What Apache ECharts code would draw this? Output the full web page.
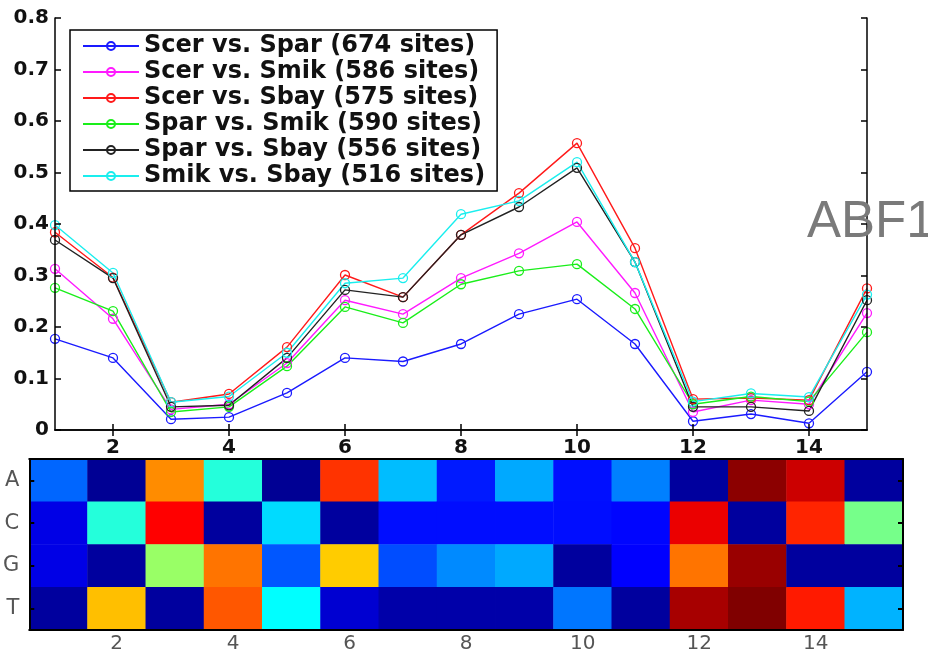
<!DOCTYPE html>
<html>
<head>
<meta charset="utf-8">
<script src="https://cdn.jsdelivr.net/npm/echarts@6/dist/echarts.min.js"></script>
<style>html,body{margin:0;padding:0;background:#fff;}#c{width:928px;height:654px;}</style>
</head>
<body>
<div id="c"></div>
<script>
const positions = ['1','2','3','4','5','6','7','8','9','10','11','12','13','14','15'];
const seriesNames = ['Scer vs. Spar (674 sites)','Scer vs. Smik (586 sites)','Scer vs. Sbay (575 sites)','Spar vs. Smik (590 sites)','Spar vs. Sbay (556 sites)','Smik vs. Sbay (516 sites)'];
const scerSpar = [0.177,0.140,0.021,0.025,0.072,0.140,0.133,0.167,0.225,0.254,0.167,0.017,0.031,0.013,0.113];
const scerSmik = [0.313,0.216,0.040,0.050,0.130,0.252,0.225,0.295,0.343,0.404,0.266,0.035,0.058,0.050,0.227];
const scerSbay = [0.384,0.296,0.054,0.070,0.161,0.301,0.258,0.379,0.460,0.557,0.353,0.060,0.062,0.058,0.275];
const sparSmik = [0.276,0.231,0.035,0.045,0.124,0.239,0.208,0.283,0.309,0.322,0.235,0.050,0.065,0.055,0.190];
const sparSbay = [0.369,0.295,0.045,0.048,0.140,0.272,0.258,0.379,0.433,0.509,0.326,0.045,0.045,0.037,0.252];
const smikSbay = [0.398,0.305,0.054,0.065,0.150,0.285,0.295,0.419,0.445,0.520,0.326,0.055,0.071,0.064,0.263];
const yTicks = [0,0.1,0.2,0.3,0.4,0.5,0.6,0.7,0.8];

const bases = ['A','C','G','T'];
const rowA = [0.225,0.020,0.738,0.410,0.020,0.825,0.310,0.150,0.290,0.140,0.250,0.030,0.988,0.925,0.030];
const rowC = [0.100,0.410,0.875,0.030,0.340,0.030,0.138,0.138,0.138,0.138,0.130,0.895,0.030,0.840,0.490];
const rowG = [0.100,0.030,0.525,0.762,0.210,0.675,0.200,0.260,0.290,0.030,0.125,0.762,0.975,0.030,0.030];
const rowT = [0.030,0.688,0.030,0.790,0.375,0.080,0.040,0.040,0.040,0.240,0.030,0.962,1.000,0.850,0.300];
const title = 'ABF1';

const lineData = [scerSpar, scerSmik, scerSbay, sparSmik, sparSbay, smikSbay];
const colors = ['#1a1aff','#ff1aff','#ff1a1a','#1aee1a','#222222','#1aeeee'];
const rows = [rowA, rowC, rowG, rowT];
const heatData = [];
rows.forEach((r, yi) => r.forEach((v, xi) => heatData.push([xi, yi, v])));

const evenOnly = (i) => i % 2 === 1;
const boldFont = 'DejaVu Sans';

const chart = echarts.init(document.getElementById('c'));
chart.setOption({
  animation: false,
  backgroundColor: '#fff',
  grid: [
    {left: 55, right: 61, top: 18, bottom: 224, show: false},
    {left: 27, right: 25, top: 459, bottom: 21, show: false}
  ],
  legend: {
    data: seriesNames,
    orient: 'vertical',
    left: 70, top: 30,
    padding: [4, 12, 3, 12],
    itemWidth: 56, itemHeight: 10, itemGap: 2,
    backgroundColor: '#fff',
    borderColor: '#000', borderWidth: 1.5,
    textStyle: {fontFamily: boldFont, fontWeight: 'bold', fontSize: 24, color: '#111', lineHeight: 24}
  },
  visualMap: {
    type: 'continuous', show: false, min: 0, max: 1, seriesIndex: 6,
    inRange: {color: ['#000080','#0000ff','#0080ff','#00ffff','#80ff80','#ffff00','#ff8000','#ff0000','#800000']}
  },
  xAxis: [
    {type: 'category', gridIndex: 0, data: positions, boundaryGap: false,
     axisLine: {lineStyle: {color: '#000', width: 1.5}},
     axisTick: {inside: true, length: 6, interval: evenOnly, lineStyle: {color: '#000', width: 1.5}},
     axisLabel: {interval: evenOnly, fontFamily: boldFont, fontWeight: 'bold', fontSize: 20, color: '#111', margin: 8},
     splitLine: {show: false}, z: 10},
    {type: 'category', gridIndex: 0, data: positions, boundaryGap: false, position: 'top',
     axisLine: {lineStyle: {color: '#000', width: 1.5}},
     axisTick: {inside: true, length: 6, interval: evenOnly, lineStyle: {color: '#000', width: 1.5}},
     axisLabel: {show: false}, splitLine: {show: false}, z: 10},
    {type: 'category', gridIndex: 1, data: positions,
     axisLine: {lineStyle: {color: '#000', width: 2}},
     axisTick: {inside: true, length: 5, alignWithLabel: true, interval: evenOnly, lineStyle: {color: '#000', width: 2}},
     axisLabel: {interval: evenOnly, fontFamily: 'DejaVu Sans', fontSize: 20, color: '#555', margin: 4},
     splitLine: {show: false}, z: 10},
    {type: 'category', gridIndex: 1, data: positions, position: 'top',
     axisLine: {lineStyle: {color: '#000', width: 2}},
     axisTick: {inside: true, length: 5, alignWithLabel: true, interval: evenOnly, lineStyle: {color: '#000', width: 2}},
     axisLabel: {show: false}, splitLine: {show: false}, z: 10}
  ],
  yAxis: [
    {type: 'value', gridIndex: 0, min: 0, max: 0.8, interval: 0.1,
     axisLine: {show: true, lineStyle: {color: '#000', width: 1.5}},
     axisTick: {show: true, inside: true, length: 6, lineStyle: {color: '#000', width: 1.5}},
     axisLabel: {fontFamily: boldFont, fontWeight: 'bold', fontSize: 20, color: '#111', margin: 6,
       formatter: (v) => { const t = yTicks.find(x => Math.abs(x - v) < 1e-6); return t === 0 ? '0' : (t !== undefined ? t.toFixed(1) : ''); }},
     splitLine: {show: false}, z: 10},
    {type: 'value', gridIndex: 0, min: 0, max: 0.8, interval: 0.1, position: 'right',
     axisLine: {show: true, lineStyle: {color: '#000', width: 1.5}},
     axisTick: {show: true, inside: true, length: 6, lineStyle: {color: '#000', width: 1.5}},
     axisLabel: {show: false}, splitLine: {show: false}, z: 10},
    {type: 'category', gridIndex: 1, data: bases, inverse: true,
     axisLine: {show: true, lineStyle: {color: '#000', width: 2}},
     axisTick: {show: true, inside: true, length: 5, alignWithLabel: true, lineStyle: {color: '#000', width: 2}},
     axisLabel: {fontFamily: 'DejaVu Sans', fontSize: 21, color: '#555', margin: 10},
     splitLine: {show: false}, z: 10},
    {type: 'category', gridIndex: 1, data: bases, inverse: true, position: 'right',
     axisLine: {show: true, lineStyle: {color: '#000', width: 2}},
     axisTick: {show: true, inside: true, length: 5, alignWithLabel: true, lineStyle: {color: '#000', width: 2}},
     axisLabel: {show: false}, splitLine: {show: false}, z: 10}
  ],
  series: lineData.map((d, i) => ({
    name: seriesNames[i], type: 'line', xAxisIndex: 0, yAxisIndex: 0, data: d,
    symbol: 'circle', symbolSize: 9,
    itemStyle: {color: 'transparent', borderColor: colors[i], borderWidth: 1.3},
    lineStyle: {color: colors[i], width: 1.4},
    emphasis: {disabled: true}
  })).concat([{
    name: 'motif', type: 'heatmap', xAxisIndex: 2, yAxisIndex: 2, data: heatData,
    itemStyle: {borderWidth: 0}, emphasis: {disabled: true}
  }]),
  graphic: [{
    type: 'text', left: 807, top: 197, z: 100,
    style: {text: title, font: '51px "Liberation Sans"', fill: '#7a7a7a'}
  }]
});
</script>
</body>
</html>
